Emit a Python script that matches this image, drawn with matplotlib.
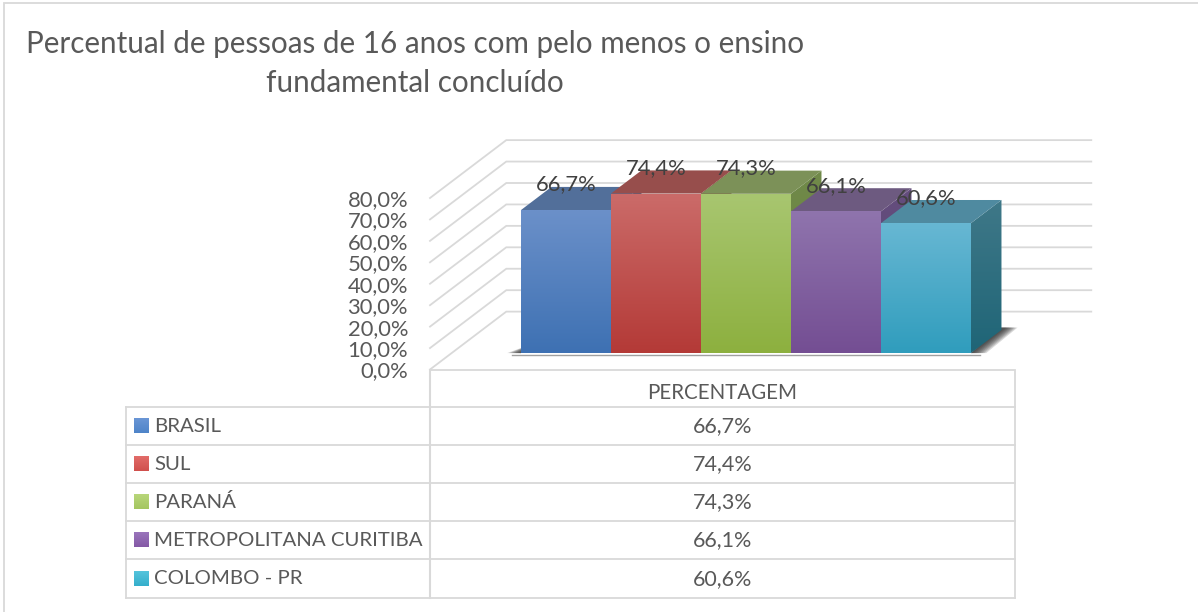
import numpy as np
import matplotlib
matplotlib.use("Agg")
import matplotlib.pyplot as plt
from matplotlib.colors import to_rgb
from matplotlib.patches import Polygon

categories = ["BRASIL", "SUL", "PARANÁ", "METROPOLITANA CURITIBA", "COLOMBO - PR"]
values = [66.7, 74.4, 74.3, 66.1, 60.6]
y_ticks = [0, 10, 20, 30, 40, 50, 60, 70, 80]
column_label = "PERCENTAGEM"
title = "Percentual de pessoas de 16 anos com pelo menos o ensino\nfundamental concluído"

W, H = 1198, 612
GRID = "#D9D9D9"
TEXT = "#595959"
LABEL = "#404040"

# (front top, front bottom, lid, side top, side bottom)
bar_colors = [
    ("#6B90C9", "#3E71B3", "#526F9A", "#45648F", "#35557D"),
    ("#CB6B69", "#B43A37", "#974E4C", "#8A4341", "#7A3230"),
    ("#A8C670", "#8DB03F", "#7C9158", "#718A4A", "#64803A"),
    ("#8F74AD", "#744E93", "#6D5A80", "#654E7E", "#563E70"),
    ("#67B7D3", "#309DBD", "#4F8AA0", "#3F7888", "#1F6577"),
]
# (top, bottom) of the small legend keys
swatch_colors = [
    ("#6A96D6", "#4E84C8"),
    ("#E26C69", "#D0504D"),
    ("#B8D67A", "#A4C660"),
    ("#9A75BB", "#8459A6"),
    ("#55C4DC", "#35AECB"),
]

# oblique projection of the fake 3D box, in data units
DX, DY = 0.339, 10.8
WALL_DEPTH = 2.5
BAR_D0, BAR_D1 = 0.71, 1.71
BAR_X0 = 0.77
X_MAX = 6.5


def fmt_pct(v):
    return f"{v:.1f}%".replace(".", ",")


def proj(x, y, d):
    return (x + d * DX, y + d * DY)


def gradient_poly(ax, pts, top, bottom, zorder, flip=False):
    poly = Polygon(pts, closed=True, fc="none", ec="none", zorder=zorder)
    ax.add_patch(poly)
    poly.set_clip_on(False)
    xs, ys = zip(*pts)
    c = np.linspace(to_rgb(top), to_rgb(bottom), 64).reshape(64, 1, 3)
    # flip is for the pixel overlay, where y runs downwards
    extent = (min(xs), max(xs), max(ys), min(ys)) if flip else (min(xs), max(xs), min(ys), max(ys))
    im = ax.imshow(c, extent=extent, origin="upper", aspect="auto",
                   interpolation="bilinear", zorder=zorder)
    im.set_clip_box(ax.figure.bbox)
    im.set_clip_path(poly)


plt.rcParams["font.family"] = ["Lato", "DejaVu Sans"]
fig = plt.figure(figsize=(W / 100, H / 100), dpi=100, facecolor="white")

# overlay in pixels for the layout pieces: border, title, table
pg = fig.add_axes([0, 0, 1, 1], zorder=3)
pg.axis("off")
pg.patch.set_alpha(0)

# main axes: the front edge of the floor, 430..1015 px wide
ax = fig.add_axes([430 / W, (H - 369.5) / H, 585 / W, 171.5 / H], zorder=2)
ax.patch.set_alpha(0)
for s in ax.spines.values():
    s.set_visible(False)

for v in y_ticks:
    a, b = proj(0, v, 0), proj(0, v, WALL_DEPTH)
    c = proj(X_MAX, v, WALL_DEPTH)
    ax.plot([a[0], b[0], c[0]], [a[1], b[1], c[1]], color=GRID, lw=1.3,
            clip_on=False, zorder=1, solid_joinstyle="miter")

# soft shadows on the floor, built from stacked translucent layers
x_end = BAR_X0 + len(values)
for grow in np.linspace(0.17, 0.02, 8):
    pts = [proj(x_end, 0, BAR_D0),
           proj(x_end + grow, 0, BAR_D0),
           proj(x_end + grow * 0.85, 0, BAR_D1 + 0.1),
           proj(x_end - 0.05, 0, BAR_D1 + 0.1)]
    ax.add_patch(Polygon(pts, closed=True, fc="#222222", ec="none", alpha=0.17,
                         zorder=2, clip_on=False))
    pts = [proj(BAR_X0, 0, BAR_D0), proj(BAR_X0 - grow * 0.9, 0, BAR_D0),
           proj(BAR_X0, 0, BAR_D0 + 0.42)]
    ax.add_patch(Polygon(pts, closed=True, fc="#222222", ec="none", alpha=0.17,
                         zorder=2, clip_on=False))
a, b = proj(BAR_X0 - 0.1, -0.7, BAR_D0), proj(x_end + 0.1, -0.7, BAR_D0)
ax.plot([a[0], b[0]], [a[1], b[1]], color="#A0A0A0", lw=1.0, zorder=2, clip_on=False)

# bars, left to right so later ones hide the sides of earlier ones
for i, v in enumerate(values):
    x0, x1 = BAR_X0 + i, BAR_X0 + i + 1
    front_top, front_bottom, lid, side_top, side_bottom = bar_colors[i]
    z = 3 + i
    side = [proj(x1, 0, BAR_D0), proj(x1, v, BAR_D0), proj(x1, v, BAR_D1), proj(x1, 0, BAR_D1)]
    gradient_poly(ax, side, side_top, side_bottom, z + 0.1)
    top = [proj(x0, v, BAR_D0), proj(x1, v, BAR_D0), proj(x1, v, BAR_D1), proj(x0, v, BAR_D1)]
    ax.add_patch(Polygon(top, closed=True, fc=lid, ec="none", zorder=z + 0.2, clip_on=False))
    front = [proj(x0, 0, BAR_D0), proj(x1, 0, BAR_D0), proj(x1, v, BAR_D0), proj(x0, v, BAR_D0)]
    gradient_poly(ax, front, front_top, front_bottom, z + 0.3)

for i, v in enumerate(values):
    lx, ly = proj(BAR_X0 + i + 0.5, v, BAR_D0)
    ax.annotate(fmt_pct(v), (lx, ly), xytext=(0, 18.4), textcoords="offset points",
                ha="center", va="center", fontsize=15.8, color=LABEL, zorder=20,
                annotation_clip=False)

ax.set_xlim(0, X_MAX)
ax.set_ylim(0, 80)
ax.set_xticks([])
ax.set_yticks(y_ticks)
ax.set_yticklabels([fmt_pct(v) for v in y_ticks], fontsize=15.8, color=TEXT)
ax.tick_params(axis="y", length=0, pad=15.8)

# border
pg.plot([4, 4, W], [H, 3, 3], color=GRID, lw=1.3, solid_joinstyle="miter")

pg.text(415, 63.5, title, ha="center", va="center", fontsize=21.3, color=TEXT, linespacing=1.47)

# data table
rows_y = [406.5, 444.5, 482.5, 520.5, 559, 597.5]
col_x = [126, 430, 1015]
pg.plot([430, 1015, 1015], [370, 370, 597.5], color=GRID, lw=1.3, solid_joinstyle="miter")
pg.plot([430, 430], [370, 597.5], color=GRID, lw=1.5)
pg.plot([126, 126], [406.5, 597.5], color=GRID, lw=1.3)
for y in rows_y:
    pg.plot([col_x[0], col_x[2]], [y, y], color=GRID, lw=1.3)
pg.text(722.5, 393, column_label, ha="center", va="center", fontsize=14.8, color=TEXT)
for i, (name, v) in enumerate(zip(categories, values)):
    yc = (rows_y[i] + rows_y[i + 1]) / 2
    key = [(134, yc - 7.5), (149, yc - 7.5), (149, yc + 7.5), (134, yc + 7.5)]
    gradient_poly(pg, key, swatch_colors[i][0], swatch_colors[i][1], 3, flip=True)
    pg.text(154, yc + 0.7, name, ha="left", va="center", fontsize=14.7, color=TEXT)
    pg.text(722.5, yc + 0.7, fmt_pct(v), ha="center", va="center", fontsize=15.5, color=TEXT)

pg.set_xlim(0, W)
pg.set_ylim(H, 0)

fig.savefig("out.png", dpi=100)
